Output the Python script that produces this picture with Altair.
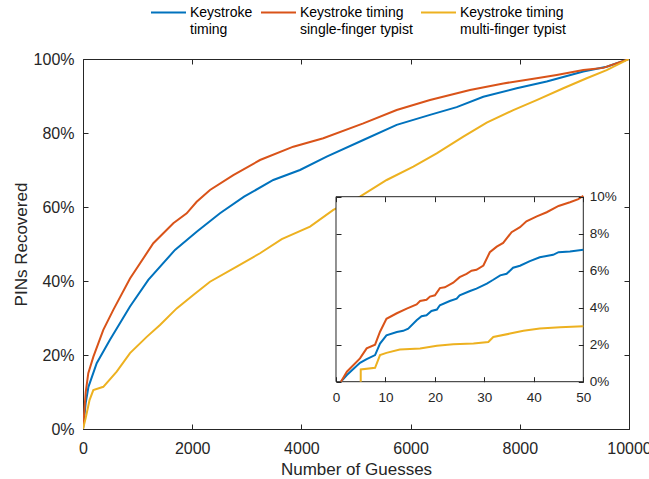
import altair as alt
import pandas as pd

SERIES = ["Keystroke timing",
          "Keystroke timing single-finger typist",
          "Keystroke timing multi-finger typist"]
COLORS = ["#0072BD", "#D95319", "#EDB120"]

# Main panel (number of guesses, % PINs recovered)
BLUE_G = [0, 50, 100, 251, 494, 861, 1196, 1685, 2082, 2509, 2950, 3485, 3974, 4463,
          5134, 5745, 6355, 6844, 7332, 7943, 8493, 9163, 9591, 10000]
BLUE_P = [0, 7.1, 11.4, 17.8, 24.1, 33.1, 40.3, 48.4, 53.3, 58.3, 62.8, 67.3, 70.0, 73.6,
          78.1, 82.2, 84.9, 87.0, 89.8, 92.1, 93.9, 96.6, 97.9, 100]
RED_G = [0, 50, 97, 189, 372, 555, 861, 1288, 1654, 1899, 2082, 2326, 2753, 3242, 3852,
         4401, 5134, 5745, 6355, 7088, 7698, 8309, 8676, 9163, 9529, 10000]
RED_P = [0, 10.0, 15.1, 19.5, 26.8, 32.2, 40.7, 50.2, 55.6, 58.3, 61.4, 64.6, 68.6, 72.7, 76.3,
         78.6, 82.6, 86.2, 88.9, 91.6, 93.4, 94.8, 95.7, 97.0, 97.6, 100]
YEL_G = [0, 50, 120, 189, 372, 617, 861, 1167, 1410, 1716, 2020, 2326, 2815, 3242, 3640,
         4158, 4585, 5073, 5562, 6050, 6478, 6966, 7394, 7881, 8309, 8797, 9225, 9591, 10000]
YEL_P = [0, 3.0, 7.8, 10.5, 11.4, 15.5, 20.5, 24.9, 28.1, 32.6, 36.2, 39.8, 43.9, 47.5, 51.3,
         54.7, 59.2, 62.8, 67.3, 70.9, 74.5, 79.0, 82.8, 86.2, 88.9, 92.1, 94.8, 97.0, 100]

# Inset (first 50 guesses)
IN_BLUE_G = [1, 2.2, 4.85, 6.2, 7.9, 8.9, 10.2, 12.3, 13.6, 14.6, 16.3, 17.3, 18.3, 19.3, 20.4,
             21, 23, 24.4, 25, 27.1, 28.4, 30.5, 31.8, 33.2, 34.5, 35.8, 37.2, 39.2, 41.2, 43.9,
             45, 47.3, 50]
IN_BLUE_P = [0, 0.36, 1.02, 1.22, 1.44, 2.06, 2.51, 2.69, 2.75, 2.87, 3.32, 3.54, 3.59, 3.82, 3.9,
             4.13, 4.36, 4.49, 4.67, 4.9, 5.03, 5.3, 5.51, 5.75, 5.83, 6.16, 6.27, 6.52, 6.73, 6.86,
             7.0, 7.04, 7.13]
IN_RED_G = [1, 2.2, 4.85, 6.2, 7.9, 8.9, 10.2, 12.3, 14.3, 16.3, 17, 18.3, 19, 20, 21, 22, 23.7,
            25, 26.4, 27.4, 28.4, 29.8, 31.1, 32.5, 33.8, 35.5, 37.2, 38.5, 40.6, 42.6, 45, 47.3,
            49, 50]
IN_RED_P = [0, 0.54, 1.26, 1.8, 2.0, 2.7, 3.4, 3.7, 3.95, 4.18, 4.36, 4.43, 4.6, 4.67, 5.06, 5.1,
            5.35, 5.65, 5.83, 6.0, 6.05, 6.28, 7.0, 7.3, 7.5, 8.08, 8.35, 8.67, 8.94, 9.16, 9.5,
            9.7, 9.87, 10.05]
IN_YEL_G = [5, 5, 7.9, 8.9, 10.2, 12.9, 17, 20.4, 23.7, 27.8, 30.8, 31.8, 35.2, 37.9, 41.2, 45.3, 50]
IN_YEL_P = [0, 0.66, 0.75, 1.44, 1.56, 1.74, 1.8, 1.94, 2.03, 2.06, 2.15, 2.42, 2.6, 2.75, 2.87,
            2.94, 3.0]

MAIN_X_TICKS = [0, 2000, 4000, 6000, 8000, 10000]
MAIN_Y_TICKS = [0, 20, 40, 60, 80, 100]
IN_X_TICKS = [0, 10, 20, 30, 40, 50]
IN_Y_TICKS = [0, 2, 4, 6, 8, 10]


def frame(groups):
    rows = []
    for name, gs, ps in groups:
        for i, (g, p) in enumerate(zip(gs, ps)):
            rows.append({"series": name, "guesses": g, "pct": p, "idx": i})
    return pd.DataFrame(rows)


main_df = frame([(SERIES[0], BLUE_G, BLUE_P), (SERIES[1], RED_G, RED_P), (SERIES[2], YEL_G, YEL_P)])
inset_df = frame([(SERIES[0], IN_BLUE_G, IN_BLUE_P), (SERIES[1], IN_RED_G, IN_RED_P),
                  (SERIES[2], IN_YEL_G, IN_YEL_P)])
box_df = pd.DataFrame([{"x0": 0, "x1": 50, "y0": 0, "y1": 10}])

W, H = 546, 370
TXT = "#262626"
AX = "#262626"

label_expr = ("datum.label == '%s' ? ['Keystroke', 'timing'] : "
              "datum.label == '%s' ? ['Keystroke timing', 'single-finger typist'] : "
              "['Keystroke timing', 'multi-finger typist']") % (SERIES[0], SERIES[1])

color = alt.Color("series:N", scale=alt.Scale(domain=SERIES, range=COLORS),
                  sort=SERIES,
                  legend=alt.Legend(orient="none", legendX=67, legendY=-65, direction="horizontal",
                                    columns=3, symbolType="stroke", symbolStrokeWidth=2,
                                    symbolSize=1225, labelFontSize=14, labelOffset=3,
                                    columnPadding=4, padding=0, title=None, labelExpr=label_expr,
                                    labelColor="#000000", labelLimit=300))

main_x_scale = alt.Scale(domain=[0, 10000], nice=False, zero=False)
main_y_scale = alt.Scale(domain=[0, 100], nice=False)

main_lines = alt.Chart(main_df).mark_line(strokeWidth=2, clip=True).encode(
    x=alt.X("guesses:Q", scale=main_x_scale,
            axis=alt.Axis(orient="bottom", values=MAIN_X_TICKS, format="d", offset=-5, tickSize=5,
                          domain=False, grid=False, labelPadding=11, labelFontSize=16,
                          labelColor=TXT, tickColor=AX, labelFlush=False, labelOverlap=False,
                          title="Number of Guesses", titleFontSize=17, titleFontWeight="normal",
                          titleColor=TXT, titleX=W / 2, titleY=45, titleBaseline="middle",
                          titleAlign="center")),
    y=alt.Y("pct:Q", scale=main_y_scale,
            axis=alt.Axis(orient="left", values=MAIN_Y_TICKS, offset=-5, tickSize=5, domain=False,
                          grid=False, labelPadding=9, labelFontSize=16, labelColor=TXT,
                          tickColor=AX, labelExpr="datum.value + '%'", labelFlush=False,
                          labelOverlap=False, title="PINs Recovered", titleFontSize=17,
                          titleFontWeight="normal", titleColor=TXT, titleAngle=270,
                          titleX=-67, titleY=H / 2, titleBaseline="middle", titleAlign="center")),
    color=color,
    order="idx:Q",
)

main_mirror = alt.Chart(main_df).mark_line(opacity=0).encode(
    x=alt.X("guesses:Q", scale=main_x_scale,
            axis=alt.Axis(orient="top", values=MAIN_X_TICKS, offset=-5, tickSize=5, domain=False,
                          grid=False, labels=False, tickColor=AX, title=None)),
    y=alt.Y("pct:Q", scale=main_y_scale,
            axis=alt.Axis(orient="right", values=MAIN_Y_TICKS, offset=-5, tickSize=5, domain=False,
                          grid=False, labels=False, tickColor=AX, title=None)),
    detail="series:N",
)

main_group = alt.layer(main_lines, main_mirror).resolve_axis(x="independent", y="independent")

# inset placement inside the plot area
IX0, IX1 = 253, 500.3
IY0, IY1 = 322.7, 137.7
in_x_scale = alt.Scale(domain=[0, 50], range=[IX0, IX1], nice=False, zero=False)
in_y_scale = alt.Scale(domain=[0, 10], range=[IY0, IY1], nice=False)

inset_box = alt.Chart(box_df).mark_rect(fill="white", stroke=AX, strokeWidth=1).encode(
    x=alt.X("x0:Q", scale=in_x_scale,
            axis=alt.Axis(orient="top", values=IN_X_TICKS, offset=-(IY1 + 5), tickSize=5,
                          domain=False, grid=False, labels=False, tickColor=AX, title=None,
                          zindex=1)),
    x2="x1:Q",
    y=alt.Y("y0:Q", scale=in_y_scale,
            axis=alt.Axis(orient="left", values=IN_Y_TICKS, offset=-(IX0 + 5), tickSize=5,
                          domain=False, grid=False, labels=False, tickColor=AX, title=None,
                          zindex=1)),
    y2="y1:Q",
)

inset_lines = alt.Chart(inset_df).mark_line(strokeWidth=2).encode(
    x=alt.X("guesses:Q", scale=in_x_scale,
            axis=alt.Axis(orient="bottom", values=IN_X_TICKS, offset=(IY0 - 5) - H, tickSize=5,
                          domain=False, grid=False, labelPadding=9, labelFontSize=13.5,
                          labelColor=TXT, tickColor=AX, labelFlush=False, labelOverlap=False,
                          title=None, zindex=1)),
    y=alt.Y("pct:Q", scale=in_y_scale,
            axis=alt.Axis(orient="right", values=IN_Y_TICKS, offset=(IX1 - 5) - W, tickSize=5,
                          domain=False, grid=False, labelPadding=6, labelFontSize=13.5,
                          labelColor=TXT, tickColor=AX, labelExpr="datum.value + '%'",
                          labelFlush=False, labelOverlap=False, title=None, zindex=1)),
    color=color,
    order="idx:Q",
)

inset_group = alt.layer(inset_box, inset_lines).resolve_axis(x="independent", y="independent")

chart = alt.layer(main_group, inset_group).resolve_scale(
    x="independent", y="independent"
).properties(
    width=W, height=H,
    padding={"left": 83, "top": 59, "right": 649 - 83 - W, "bottom": 479 - 59 - H},
    autosize=alt.AutoSizeParams(type="none"),
).configure(
    font="Liberation Sans",
    style={"guide-label": {"lineHeight": 17.4}},
).configure_view(
    stroke=AX, strokeWidth=1,
)

chart.save("out.html", embed_options={"renderer": "svg", "actions": False})
